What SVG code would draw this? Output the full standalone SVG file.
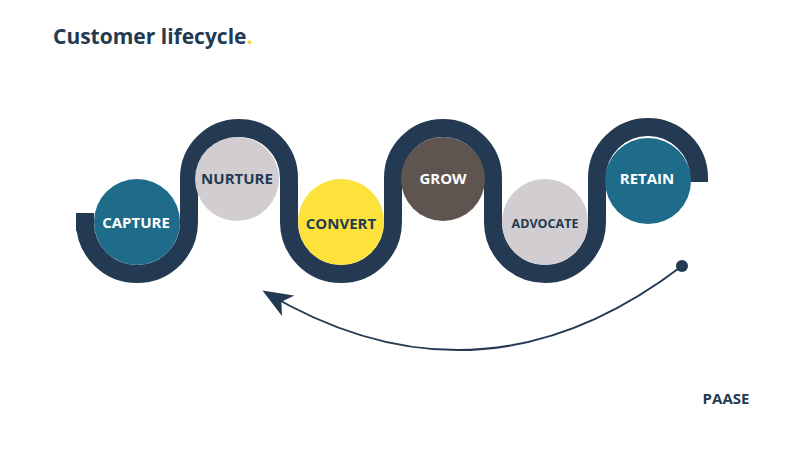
<svg xmlns="http://www.w3.org/2000/svg" width="800" height="450" viewBox="0 0 800 450">
<style>
.lbl{font-family:"Open Sans","Liberation Sans",sans-serif;font-weight:700;text-anchor:middle;dominant-baseline:central}
.w{fill:#fff}.d{fill:#233a52}
</style>
<defs><marker id="ah" markerWidth="30" markerHeight="24" refX="27" refY="12" orient="auto" markerUnits="userSpaceOnUse" viewBox="0 0 30 24"><path d="M30,12 L0,0 L8,12 L0,24 Z" fill="#233a52"/></marker></defs>
<rect width="800" height="450" fill="#fff"/>
<text x="53" y="44" font-family="'Open Sans','Liberation Sans',sans-serif" font-weight="700" font-size="21" fill="#233a52">Customer lifecycle<tspan fill="#f5d21c">.</tspan></text>
<g id="connectors">
<path d="M76,222 L85,222 A52,52 0 0 0 189,222 L189,178 A50,50 0 0 1 289,178 L289,222 A52,52 0 0 0 393,222 L393,178 A50,50 0 0 1 493,178 L493,222 A52,52 0 0 0 597,222 L597,178 A51,51 0 0 1 699,178 L699,182" fill="none" stroke="#233a52" stroke-width="18"/>
<path d="M682,266 Q480,420 265,292" fill="none" stroke="#233a52" stroke-width="2" marker-end="url(#ah)"/>
<circle cx="682" cy="266" r="6" fill="#233a52"/>
</g>
<g id="capture"><circle cx="137" cy="222" r="43" fill="#1f6b8a"/><text class="lbl w" x="136" y="222" font-size="15">CAPTURE</text></g>
<g id="nurture"><circle cx="237" cy="179" r="42" fill="#d1cdd0"/><text class="lbl d" x="237" y="178" font-size="15">NURTURE</text></g>
<g id="convert"><circle cx="341" cy="222" r="43" fill="#fde23c"/><text class="lbl d" x="341" y="223" font-size="15">CONVERT</text></g>
<g id="grow"><circle cx="443" cy="179" r="42" fill="#5e5450"/><text class="lbl w" x="443" y="178" font-size="15">GROW</text></g>
<g id="advocate"><circle cx="545" cy="222" r="43" fill="#d1cdd0"/><text class="lbl d" x="545" y="223" font-size="12.5">ADVOCATE</text></g>
<g id="retain"><circle cx="648" cy="181" r="43" fill="#1f6b8a"/><text class="lbl w" x="647" y="178" font-size="15">RETAIN</text></g>
<text x="726" y="404" font-family="'Open Sans','Liberation Sans',sans-serif" font-weight="700" font-size="15" fill="#233a52" text-anchor="middle">PAASE</text>
</svg>
